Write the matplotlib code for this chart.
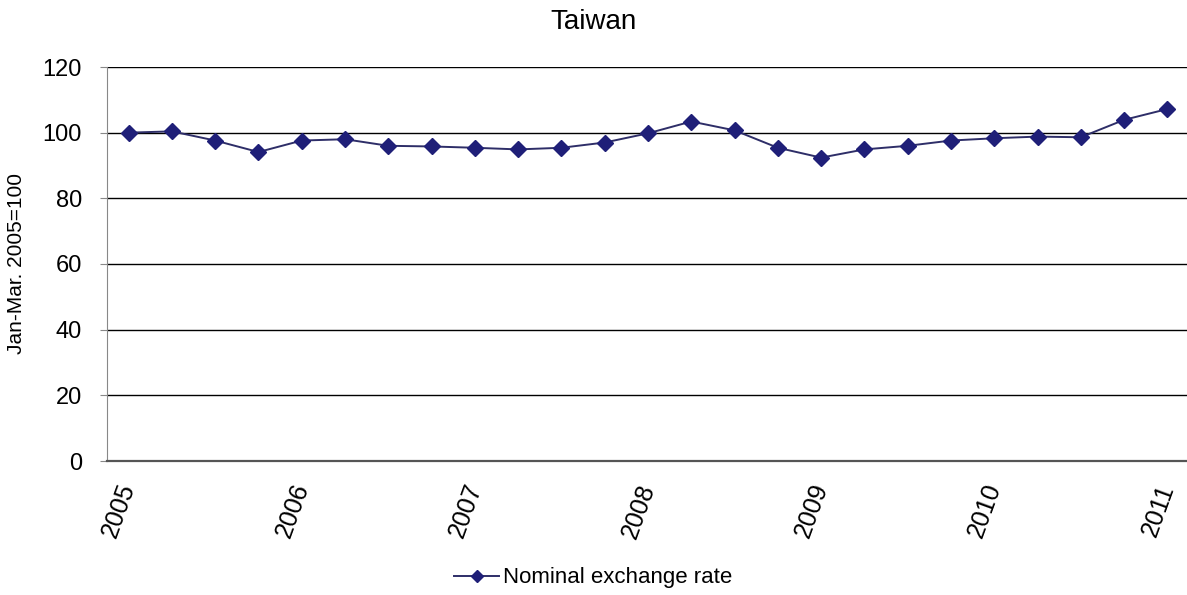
import matplotlib.pyplot as plt

plt.rcParams['font.family'] = ['Liberation Sans', 'DejaVu Sans']

# quarterly index, Jan-Mar 2005 = 100
quarters = ['2005Q1', '2005Q2', '2005Q3', '2005Q4',
            '2006Q1', '2006Q2', '2006Q3', '2006Q4',
            '2007Q1', '2007Q2', '2007Q3', '2007Q4',
            '2008Q1', '2008Q2', '2008Q3', '2008Q4',
            '2009Q1', '2009Q2', '2009Q3', '2009Q4',
            '2010Q1', '2010Q2', '2010Q3', '2010Q4',
            '2011Q1']
nominal = [100.0, 100.4, 97.6, 94.1,
           97.6, 98.0, 96.0, 95.8,
           95.4, 94.9, 95.4, 97.0,
           99.8, 103.4, 100.7, 95.4,
           92.4, 94.9, 96.0, 97.6,
           98.3, 98.8, 98.6, 103.9,
           107.2]
year_labels = ['2005', '2006', '2007', '2008', '2009', '2010', '2011']

W, H = 1187, 595
fig = plt.figure(figsize=(W / 100, H / 100), dpi=100)
ax = fig.add_axes([107 / W, 1 - 461 / H, 1082 / W, 394 / H])

x = list(range(len(quarters)))
ax.plot(x, nominal, color='#2e2e68', lw=1.4, marker='D', markersize=8.5,
        markerfacecolor='#1f1f78', markeredgecolor='#1f1f78',
        label='Nominal exchange rate', zorder=3)

ax.set_xlim(-0.5, len(quarters) - 0.5)
ax.set_ylim(0, 120)
ax.set_yticks(range(0, 121, 20))
ax.yaxis.grid(True, color='black', lw=1.0)
ax.set_axisbelow(True)

# only the first quarter of each year gets a label
ax.set_xticks(x[::4])
ax.set_xticklabels(year_labels, rotation=70, ha='right', va='center',
                   rotation_mode='anchor', fontsize=18)
ax.tick_params(axis='x', length=0, pad=17)
ax.tick_params(axis='y', length=5, color='#888888', labelsize=17, pad=13)

for side in ['top', 'right']:
    ax.spines[side].set_visible(False)
ax.spines['left'].set_color('#888888')
ax.spines['bottom'].set_color('#555555')
ax.spines['bottom'].set_linewidth(1.6)

ax.set_ylabel('Jan-Mar. 2005=100', fontsize=15, labelpad=12)
fig.text(0.5, 1 - 22 / H, 'Taiwan', ha='center', va='center', fontsize=20)

fig.legend(loc='center', bbox_to_anchor=(0.5, 1 - 578 / H), frameon=False,
           fontsize=16, handlelength=2.0, handletextpad=0.2,
           markerscale=0.75)

fig.savefig('out.png', dpi=100)
